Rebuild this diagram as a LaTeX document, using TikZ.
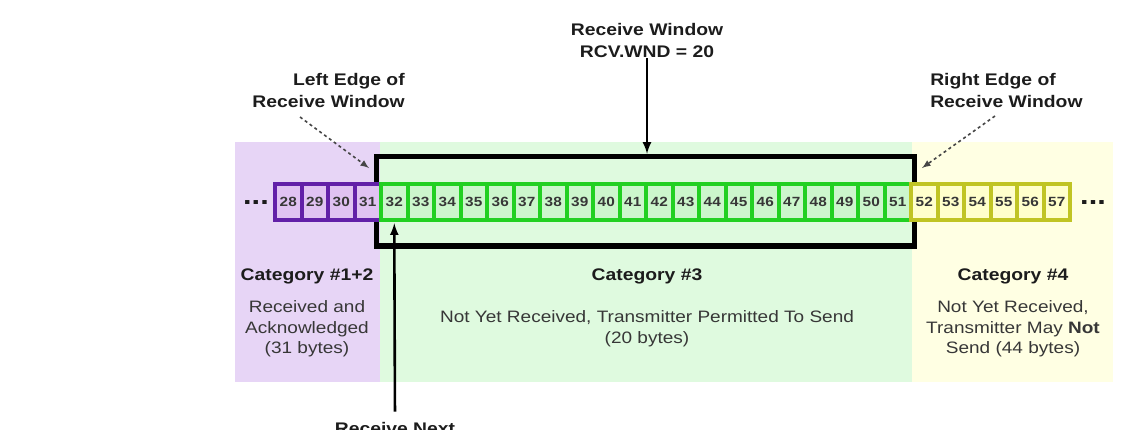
\documentclass[tikz,border=0pt]{standalone}
\usepackage{fontspec}
\setmainfont{Liberation Sans}[FakeStretch=1.15]
\newlength{\du}
\setlength{\du}{0.75pt}
\definecolor{purplebg}{RGB}{231,213,246}
\definecolor{greenbg}{RGB}{223,250,223}
\definecolor{yellowbg}{RGB}{255,255,227}
\definecolor{purpleline}{RGB}{98,32,168}
\definecolor{purplefill}{RGB}{224,194,242}
\definecolor{greenline}{RGB}{34,208,34}
\definecolor{greenfill}{RGB}{204,246,204}
\definecolor{yellowline}{RGB}{192,196,36}
\definecolor{yellowfill}{RGB}{255,255,204}
\definecolor{labelblack}{RGB}{28,28,28}
\definecolor{bodygray}{RGB}{55,55,55}
\definecolor{arrowgray}{RGB}{70,70,70}
\tikzset{
  bytecell/.style={draw, line width=4\du, minimum width=26.5\du, minimum height=36.5\du,
    inner sep=0pt, text=bodygray, font=\fontsize{10}{10}\selectfont\bfseries},
  purplecell/.style={bytecell, draw=purpleline, fill=purplefill},
  greencell/.style={bytecell, draw=greenline, fill=greenfill},
  yellowcell/.style={bytecell, draw=yellowline, fill=yellowfill},
  headtext/.style={text=labelblack, inner sep=1\du, font=\fontsize{12.6}{16.5}\selectfont\bfseries},
  bodytext/.style={text=bodygray, inner sep=1\du, font=\fontsize{12.4}{15.5}\selectfont},
  dotstext/.style={text=labelblack, inner sep=0pt, font=\fontsize{20}{20}\selectfont\bfseries},
  solidarrow/.style={-latex, line width=2.6\du, draw=black},
  dottedarrow/.style={-latex, line width=1.6\du, draw=arrowgray, dash pattern=on 3\du off 3\du}
}
\begin{document}
\begin{tikzpicture}
\pgftransformyscale{-1.000000}
\useasboundingbox (0\du,0\du) rectangle (1134\du,429\du);
% category areas
\fill[purplebg] (235\du,142\du) rectangle (380\du,382\du);
\fill[greenbg] (380\du,142\du) rectangle (912\du,382\du);
\fill[yellowbg] (912\du,142\du) rectangle (1113\du,382\du);
% receive window frame
\node[draw, line width=5.5\du, minimum width=538\du, minimum height=89.5\du, inner sep=0pt] (rwnd) at (645.5\du,201.25\du) {};
% top labels
\node[headtext, align=center] (rwndlabel) at (647\du,40\du) {Receive Window\\RCV.WND = 20};
\node[headtext, align=right, anchor=east] (leftlabel) at (406\du,90\du) {Left Edge of\\Receive Window};
\node[headtext, align=left, anchor=west] (rightlabel) at (929\du,90\du) {Right Edge of\\Receive Window};
\coordinate (leftfrom) at (300\du,117\du);
\coordinate (leftto) at (369\du,168\du);
\coordinate (rightfrom) at (995\du,116\du);
\coordinate (rightto) at (922\du,168\du);
\draw[solidarrow] (rwndlabel.south) -- (rwndlabel.south |- rwnd.north);
\draw[dottedarrow] (leftfrom) -- (leftto);
\draw[dottedarrow] (rightfrom) -- (rightto);
% byte stream
\node[dotstext] (dotsleft) at (256\du,203\du) {...};
\node[purplecell] (b28) at (288.25\du,202\du) {28};
\node[purplecell] (b29) at (314.75\du,202\du) {29};
\node[purplecell] (b30) at (341.25\du,202\du) {30};
\node[purplecell] (b31) at (367.75\du,202\du) {31};
\node[greencell] (b32) at (394.25\du,202\du) {32};
\node[greencell] (b33) at (420.75\du,202\du) {33};
\node[greencell] (b34) at (447.25\du,202\du) {34};
\node[greencell] (b35) at (473.75\du,202\du) {35};
\node[greencell] (b36) at (500.25\du,202\du) {36};
\node[greencell] (b37) at (526.75\du,202\du) {37};
\node[greencell] (b38) at (553.25\du,202\du) {38};
\node[greencell] (b39) at (579.75\du,202\du) {39};
\node[greencell] (b40) at (606.25\du,202\du) {40};
\node[greencell] (b41) at (632.75\du,202\du) {41};
\node[greencell] (b42) at (659.25\du,202\du) {42};
\node[greencell] (b43) at (685.75\du,202\du) {43};
\node[greencell] (b44) at (712.25\du,202\du) {44};
\node[greencell] (b45) at (738.75\du,202\du) {45};
\node[greencell] (b46) at (765.25\du,202\du) {46};
\node[greencell] (b47) at (791.75\du,202\du) {47};
\node[greencell] (b48) at (818.25\du,202\du) {48};
\node[greencell] (b49) at (844.75\du,202\du) {49};
\node[greencell] (b50) at (871.25\du,202\du) {50};
\node[greencell] (b51) at (897.75\du,202\du) {51};
\node[yellowcell] (b52) at (924.25\du,202\du) {52};
\node[yellowcell] (b53) at (950.75\du,202\du) {53};
\node[yellowcell] (b54) at (977.25\du,202\du) {54};
\node[yellowcell] (b55) at (1003.75\du,202\du) {55};
\node[yellowcell] (b56) at (1030.25\du,202\du) {56};
\node[yellowcell] (b57) at (1056.75\du,202\du) {57};
\node[dotstext] (dotsright) at (1093\du,203\du) {...};
% receive next pointer
\node[headtext, anchor=base] (rnextlabel) at (395\du,434\du) {Receive Next};
\draw[solidarrow, shorten <=9\du, shorten >=1\du] (rnextlabel.north) -- (b32.south);
% category texts
\node[headtext] (cat12) at (307\du,276\du) {Category \#1+2};
\node[bodytext, align=center] (desc12) at (307\du,329\du) {Received and\\Acknowledged\\(31 bytes)};
\node[headtext] (cat3) at (647\du,276\du) {Category \#3};
\node[bodytext, align=center] (desc3) at (647\du,329\du) {Not Yet Received, Transmitter Permitted To Send\\(20 bytes)};
\node[headtext] (cat4) at (1013\du,276\du) {Category \#4};
\node[bodytext, align=center] (desc4) at (1013\du,329\du) {Not Yet Received,\\Transmitter May \textbf{Not}\\Send (44 bytes)};
\end{tikzpicture}
\end{document}
